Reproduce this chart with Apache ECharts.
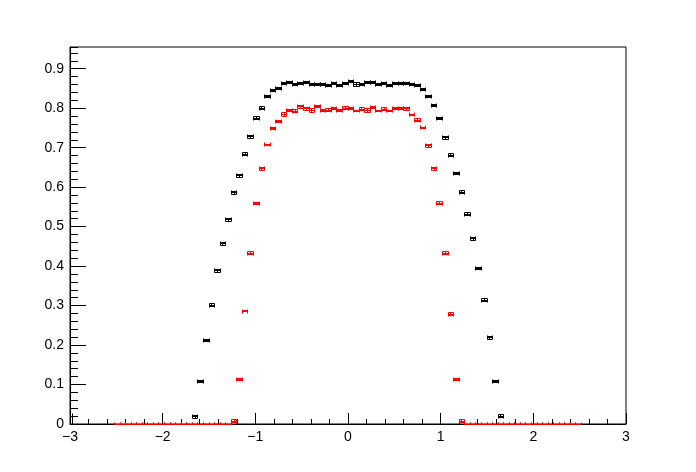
<!DOCTYPE html>
<html><head><meta charset="utf-8">
<script src="https://cdn.jsdelivr.net/npm/echarts@6/dist/echarts.min.js"></script>
<style>html,body{margin:0;padding:0;background:#fff}#c{width:696px;height:472px}</style>
</head><body><div id="c"></div>
<script>
const binHalfWidth = 0.03;

const blackX = [-2.97,
  -1.65,-1.59,-1.53,-1.47,-1.41,-1.35,-1.29,-1.23,-1.17,-1.11,-1.05,-0.99,-0.93,-0.87,-0.81,-0.75,-0.69,-0.63,-0.57,-0.51,-0.45,-0.39,-0.33,-0.27,-0.21,-0.15,-0.09,-0.03,
  0.03,0.09,0.15,0.21,0.27,0.33,0.39,0.45,0.51,0.57,0.63,0.69,0.75,0.81,0.87,0.93,0.99,1.05,1.11,1.17,1.23,1.29,1.35,1.41,1.47,1.53,1.59,1.65];
const blackY = [0,
  0.018,0.108,0.212,0.301,0.388,0.456,0.517,0.586,0.629,0.683,0.728,0.775,0.800,0.829,0.844,0.849,0.862,0.865,0.860,0.862,0.865,0.860,0.860,0.860,0.857,0.863,0.857,0.863,
  0.868,0.860,0.860,0.865,0.865,0.860,0.863,0.857,0.862,0.862,0.862,0.860,0.857,0.847,0.829,0.806,0.773,0.725,0.681,0.634,0.587,0.531,0.469,0.393,0.314,0.218,0.108,0.0195];
const blackErr = [0.027,
  0.004,0.0022,0.0022,0.004,0.004,0.004,0.004,0.004,0.004,0.004,0.004,0.004,0.004,0.0022,0.0022,0.0022,0.0022,0.0022,0.0022,0.0022,0.0022,0.0022,0.0022,0.0022,0.0022,0.0022,0.0022,0.0022,
  0.0022,0.004,0.0022,0.0022,0.0022,0.0022,0.0022,0.0022,0.0022,0.0022,0.0022,0.0022,0.0022,0.0022,0.0022,0.0022,0.0022,0.004,0.004,0.0022,0.004,0.004,0.004,0.0022,0.004,0.004,0.0022,0.004];

const redX = [-2.49,-2.43,-2.37,-2.31,-2.25,-2.19,-2.13,-2.07,-2.01,-1.95,-1.89,-1.83,-1.77,-1.71,-1.65,-1.59,-1.53,-1.47,-1.41,-1.35,-1.29,
  -1.23,-1.17,-1.11,-1.05,-0.99,-0.93,-0.87,-0.81,-0.75,-0.69,-0.63,-0.57,-0.51,-0.45,-0.39,-0.33,-0.27,-0.21,-0.15,-0.09,-0.03,
  0.03,0.09,0.15,0.21,0.27,0.33,0.39,0.45,0.51,0.57,0.63,0.69,0.75,0.81,0.87,0.93,0.99,1.05,1.11,1.17,1.23,
  1.29,1.35,1.41,1.47,1.53,1.59,1.65,1.71,1.77,1.83,1.89,1.95,2.01,2.07,2.13,2.19,2.25,2.31,2.37,2.43,2.49];
const redY = [0,0,0,0,0,0,0,0,0,0,0,0,0,0,0,0,0,0,0,0,0,
  0.007,0.113,0.286,0.433,0.558,0.646,0.707,0.748,0.766,0.784,0.794,0.792,0.804,0.798,0.794,0.805,0.794,0.795,0.799,0.794,0.800,
  0.799,0.793,0.797,0.794,0.801,0.793,0.797,0.793,0.799,0.799,0.798,0.783,0.770,0.750,0.705,0.646,0.559,0.433,0.278,0.113,0.007,
  0,0,0,0,0,0,0,0,0,0,0,0,0,0,0,0,0,0,0,0,0];
const redErr = [0,0,0,0,0,0,0,0,0,0,0,0,0,0,0,0,0,0,0,0,0,
  0.004,0.0022,0.0022,0.004,0.0022,0.004,0.0022,0.0022,0.0022,0.004,0.0022,0.004,0.004,0.004,0.004,0.0022,0.0022,0.004,0.0022,0.0022,0.004,
  0.0022,0.0022,0.004,0.004,0.0022,0.0022,0.004,0.0022,0.0022,0.0022,0.004,0.0022,0.004,0.0022,0.004,0.004,0.004,0.004,0.004,0.0022,0.004,
  0,0,0,0,0,0,0,0,0,0,0,0,0,0,0,0,0,0,0,0,0];

const xTickLabels = ['\u22123','\u22122','\u22121','0','1','2','3'];
const yTickLabels = ['0','0.1','0.2','0.3','0.4','0.5','0.6','0.7','0.8','0.9'];

function zip(xs, ys, es) { return xs.map((x, i) => [x, ys[i], es[i]]); }

function errRenderer(color) {
  return function (params, api) {
    const cs = params.coordSys;
    const bottom = cs.y + cs.height + 0.5;
    const x = api.value(0), y = api.value(1), e = api.value(2);
    const pL = api.coord([x - binHalfWidth, y]);
    const pR = api.coord([x + binHalfWidth, y]);
    const pC = api.coord([x, y]);
    const pT = api.coord([x, y + e]);
    const pB = api.coord([x, y - e]);
    const s = v => Math.floor(v) + 0.5;
    const cl = v => Math.min(v, bottom);
    const cap = 2;
    const yc = cl(s(pC[1]));
    const style = { stroke: color, lineWidth: 1, fill: null };
    const ch = [];
    const seg = (x1, y1, x2, y2) => ch.push({ type: 'line', shape: { x1, y1, x2, y2 }, style });
    const xl = s(pL[0]), xr = s(pR[0]), xc = s(pC[0]);
    seg(xl, yc, xr, yc);
    if (e > 0 && y === 0) {
      // only the vertical error line is visible above the axis
      seg(xc, s(pT[1]), xc, bottom);
      return { type: 'group', children: ch };
    }
    seg(xl, yc - cap, xl, cl(yc + cap));
    seg(xr, yc - cap, xr, cl(yc + cap));
    if (e > 0) {
      const yt = s(pT[1]);
      const yb = cl(s(pB[1]));
      seg(xc, yt, xc, yb);
      seg(xl, yt, xr, yt);
      seg(xl, yb, xr, yb);
    }
    return { type: 'group', children: ch };
  };
}

const chart = echarts.init(document.getElementById('c'), null, { renderer: 'canvas' });
const font = 'Liberation Sans';
chart.setOption({
  animation: false,
  backgroundColor: '#fff',
  grid: { left: 70, right: 70, top: 47, bottom: 48, show: true, borderColor: '#000', borderWidth: 1, backgroundColor: 'transparent' },
  xAxis: {
    type: 'value', min: -3, max: 3, interval: 1,
    axisLine: { onZero: false, lineStyle: { color: '#000', width: 1 } },
    axisTick: { inside: true, length: 11, lineStyle: { color: '#000' } },
    minorTick: { show: true, splitNumber: 5, length: 5, lineStyle: { color: '#000' } },
    splitLine: { show: false },
    axisLabel: { color: '#000', fontSize: 14, fontFamily: font, margin: 6,
      formatter: v => xTickLabels[Math.round(v) + 3] }
  },
  yAxis: [{
    type: 'value', min: 0, max: 0.955, interval: 0.1,
    axisLine: { onZero: false, lineStyle: { color: '#000', width: 1 } },
    axisTick: { inside: true, length: 16, lineStyle: { color: '#000' } },
    splitLine: { show: false },
    axisLabel: { color: '#000', fontSize: 14, fontFamily: font, margin: 6, showMaxLabel: false,
      formatter: v => { const k = Math.round(v * 10); return Math.abs(v - k / 10) < 1e-6 && k < yTickLabels.length ? yTickLabels[k] : ''; } }
  }, {
    type: 'value', min: 0, max: 0.955, interval: 0.02, position: 'left', offset: 0,
    axisLine: { show: false, onZero: false },
    axisTick: { inside: true, length: 8, lineStyle: { color: '#000' } },
    splitLine: { show: false },
    axisLabel: { show: false }
  }],
  series: [
    { type: 'custom', name: 'black', renderItem: errRenderer('#000000'), data: zip(blackX, blackY, blackErr), encode: { x: 0, y: 1 }, clip: false, z: 3 },
    { type: 'custom', name: 'red', renderItem: errRenderer('#ff0000'), data: zip(redX, redY, redErr), encode: { x: 0, y: 1 }, clip: false, z: 4 }
  ]
});
</script>
</body></html>
